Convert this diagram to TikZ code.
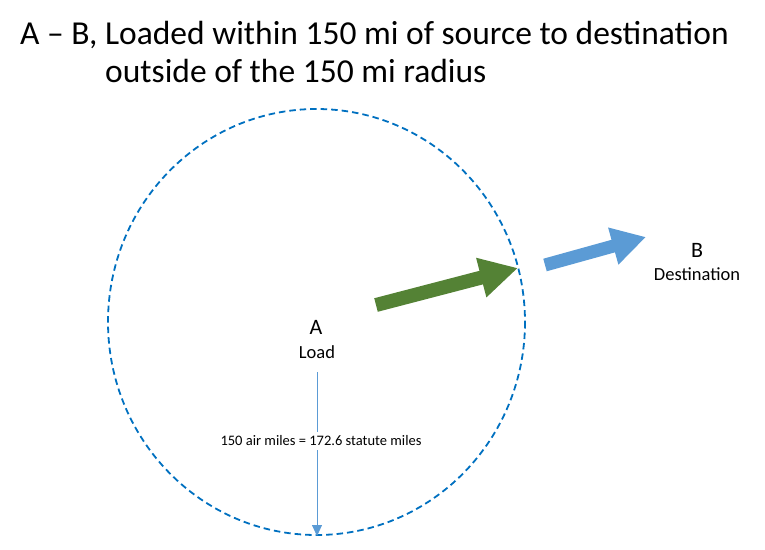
\documentclass[tikz,border=0pt]{standalone}
\usepackage{fontspec}
\setmainfont{Carlito}
\usetikzlibrary{arrows.meta}
\definecolor{ringblue}{HTML}{0070C0}
\definecolor{lineblue}{HTML}{5B9BD5}
\definecolor{leafgreen}{HTML}{548235}
\begin{document}
\begin{tikzpicture}[x=1pt,y=-1pt,
    fatarrow/.style={line width=14pt,-{Triangle[length=38pt,width=38pt]}},
    letter/.style={anchor=base,inner sep=0pt,font=\fontsize{22}{24}\selectfont},
    lbl/.style={anchor=base,inner sep=0pt,font=\fontsize{18.5}{21}\selectfont}]
    \useasboundingbox (0,0) rectangle (765,549);
    \node[anchor=base west,inner sep=0pt,font=\fontsize{33.5}{38}\selectfont] (title1) at (20,44) {A -- B, Loaded within 150 mi of source to destination};
    \node[anchor=base west,inner sep=0pt,font=\fontsize{33.5}{38}\selectfont] (title2) at (105,82) {outside of the 150 mi radius};
    \draw[ringblue,line width=1.8pt,dash pattern=on 6.5pt off 4pt] (316.5,322) ellipse [x radius=208.5,y radius=213];
    \node[letter] (a) at (316,334) {A};
    \node[lbl] (load) at (317,358) {Load};
    \node[letter] (b) at (697,257) {B};
    \node[lbl] (dest) at (697,280) {Destination};
    \node[inner sep=4pt,font=\fontsize{14.5}{16}\selectfont] (miles) at (321,441) {150 air miles = 172.6 statute miles};
    \coordinate (rimtop) at (317,372);
    \coordinate (rimbot) at (317,536);
    \draw[lineblue,line width=0.8pt] (rimtop) -- (miles.north -| rimtop);
    \draw[lineblue,line width=0.8pt,-{Triangle[length=11pt,width=10pt]}] (miles.south -| rimtop) -- (rimbot);
    \coordinate (g1) at (376,305);
    \coordinate (g2) at (518,268);
    \draw[leafgreen,fatarrow] (g1) -- (g2);
    \coordinate (u1) at (545,265);
    \coordinate (u2) at (646,237);
    \draw[lineblue,fatarrow,line width=13pt,-{Triangle[length=34pt,width=36pt]}] (u1) -- (u2);
\end{tikzpicture}
\end{document}
